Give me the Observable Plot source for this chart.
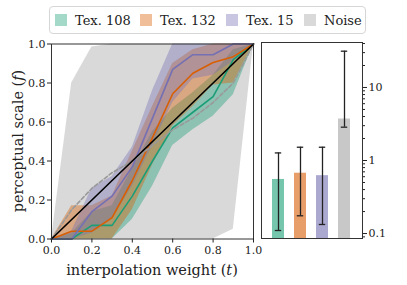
<!DOCTYPE html>
<html><head><meta charset="utf-8">
<script src="https://cdn.jsdelivr.net/npm/d3@7"></script>
<script src="https://cdn.jsdelivr.net/npm/@observablehq/plot@0.6"></script>
<style>
body{margin:0;background:#fff;}
#wrap{position:relative;width:407px;height:285px;overflow:hidden;font-family:"DejaVu Serif",serif;}
#left,#right{position:absolute;top:0;}
#left{left:0;}
#right{left:255px;}
#legend{position:absolute;left:49px;top:6px;width:317px;height:28px;border:1px solid #d6d6d6;border-radius:4px;box-sizing:border-box;font-size:13px;color:#222;background:#fff;z-index:2;white-space:nowrap}
.it{position:absolute;top:0;height:26px;display:flex;align-items:center;}
.sw{width:12px;height:12px;margin-right:8px;}
</style></head>
<body><div id="wrap"><div id="left"></div><div id="right"></div><div id="legend"></div></div>
<script>
const t = [0,0.1,0.2,0.3,0.4,0.5,0.6,0.7,0.8,0.9,1.0];
const seriesNames = ["Tex. 108","Tex. 132","Tex. 15","Noise"];
const tex108Mean = [0,0,0.07,0.07,0.22,0.40,0.57,0.65,0.73,0.92,1];
const tex108Lo   = [0,0,0,0,0.10,0.27,0.48,0.56,0.63,0.74,1];
const tex108Hi   = [0,0.03,0.14,0.17,0.36,0.55,0.67,0.75,0.84,0.97,1];
const tex132Mean = [0,0.04,0.04,0.11,0.30,0.52,0.745,0.85,0.905,0.935,1];
const tex132Lo   = [0,0,0,0,0.15,0.38,0.58,0.68,0.79,0.80,1];
const tex132Hi   = [0,0.17,0.17,0.22,0.45,0.68,0.90,0.97,1.0,1.0,1];
const tex15Mean  = [0,0,0.14,0.22,0.37,0.62,0.87,0.945,0.945,1.0,1];
const tex15Lo    = [0,0,0.03,0.10,0.27,0.48,0.70,0.82,0.84,0.91,1];
const tex15Hi    = [0,0.04,0.26,0.32,0.47,0.76,1.0,1.0,1.0,1.0,1];
const noiseMean  = [0,0.15,0.26,0.34,0.40,0.48,0.56,0.62,0.70,0.80,1];
const noiseLo    = [0,0,0,0,0,0,0,0,0,0.05,1];
const noiseHi    = [0,0.80,0.985,1,1,1,1,1,1,1,1];
const barValue   = [0.55,0.67,0.62,3.7];
const barErrLo   = [0.11,0.175,0.133,2.86];
const barErrHi   = [1.27,1.52,1.52,31.4];
const xTicks = [0,0.2,0.4,0.6,0.8,1.0];
const yTicks = [0,0.2,0.4,0.6,0.8,1.0];
const logTicks = [0.1,1,10];

const colors = ["#1b9e77","#d95f02","#7570b3","#808080"];
const barColors = ["#76c5ad","#e89e68","#aca9d1","#c8c8c8"];
const swColors = ["#a4d8c9","#f0bf9a","#c8c6e1","#d9d9d9"];
const FF = "DejaVu Serif";
const font = {fontFamily:FF, fontSize:"11px", color:"#222", background:"transparent", overflow:"visible"};

const means=[tex108Mean,tex132Mean,tex15Mean,noiseMean], los=[tex108Lo,tex132Lo,tex15Lo,noiseLo], his=[tex108Hi,tex132Hi,tex15Hi,noiseHi];
const rows = [];
seriesNames.forEach((s,i)=>t.forEach((x,j)=>rows.push({s, t:x, m:means[i][j], lo:los[i][j], hi:his[i][j]})));
const bySeries = s => rows.filter(r=>r.s===s);
const colorOf = s => colors[seriesNames.indexOf(s)];

const bandOrder = ["Noise","Tex. 108","Tex. 132","Tex. 15"];
const marks = [];
bandOrder.forEach(s=>marks.push(Plot.areaY(bySeries(s),{x:"t",y1:"lo",y2:"hi",fill:colorOf(s),fillOpacity:s==="Noise"?0.3:0.4})));
["Tex. 108","Tex. 132","Tex. 15"].forEach(s=>marks.push(Plot.line(bySeries(s),{x:"t",y:"m",stroke:colorOf(s),strokeWidth:1.6})));
marks.push(Plot.line(bySeries("Noise"),{x:"t",y:"m",stroke:"#999",strokeWidth:1.6,strokeDasharray:"4,2.2"}));
marks.push(Plot.line(t.map(x=>({x,y:x})),{x:"x",y:"y",stroke:"#000",strokeWidth:1.6}));
marks.push(Plot.frame({stroke:"#333",strokeWidth:1}));
marks.push(Plot.axisX({ticks:xTicks,tickFormat:d3.format(".1f"),tickSize:4,tickPadding:3,label:null,stroke:"#222",fontFamily:FF}));
marks.push(Plot.axisY({ticks:yTicks,tickFormat:d3.format(".1f"),tickSize:4,tickPadding:2,label:null,stroke:"#222",fontFamily:FF}));

const left = Plot.plot({width:260,height:285,marginLeft:51,marginRight:7,marginTop:43.5,marginBottom:46.5,
  x:{domain:[0,1]}, y:{domain:[0,1]}, style:font, marks});
document.getElementById("left").appendChild(left);
const ls = d3.select(left);
const xl = ls.append("text").attr("x",152).attr("y",275).attr("text-anchor","middle").attr("font-size",14.5).attr("font-family",FF).attr("fill","#222");
xl.append("tspan").text("interpolation weight (");xl.append("tspan").attr("font-style","italic").text("t");xl.append("tspan").text(")");
const yl = ls.append("text").attr("transform","translate(23,141) rotate(-90)").attr("text-anchor","middle").attr("font-size",14.5).attr("font-family",FF).attr("fill","#222");
yl.append("tspan").text("perceptual scale (");yl.append("tspan").attr("font-style","italic").text("f");yl.append("tspan").text(")");

const bars = seriesNames.map((s,i)=>({s, v:barValue[i], lo:barErrLo[i], hi:barErrHi[i], c:barColors[i]}));
const yDom = [0.0855, 41.3];
const minor = [];
[0.01,0.1,1,10].forEach(d=>{for(let k=2;k<=9;k++){const v=d*k; if(v>=yDom[0]&&v<=yDom[1]) minor.push(v);}});
const right = Plot.plot({width:152,height:285,marginLeft:6,marginRight:45,marginTop:42,marginBottom:47,
  x:{type:"band",domain:seriesNames,paddingInner:0.45,paddingOuter:0.48,axis:null},
  y:{type:"log",domain:yDom,axis:null},
  style:font,
  marks:[
    Plot.barY(bars,{x:"s",y1:yDom[0],y2:"v",fill:"c"}),
    Plot.ruleX(bars,{x:"s",y1:"lo",y2:"hi",stroke:"#222",strokeWidth:1.3}),
    Plot.tickY(bars,{x:"s",y:"lo",stroke:"#222",strokeWidth:1.3,inset:2.8}),
    Plot.tickY(bars,{x:"s",y:"hi",stroke:"#222",strokeWidth:1.3,inset:2.8}),
    Plot.frame({stroke:"#333",strokeWidth:1}),
    Plot.axisY({anchor:"right",ticks:logTicks,tickFormat:d=>String(d),tickSize:4,tickPadding:2,label:null,stroke:"#222",fontFamily:FF}),
    Plot.axisY({anchor:"right",ticks:minor,tickFormat:null,text:null,tickSize:2,label:null,stroke:"#222"})
  ]});
document.getElementById("right").appendChild(right);

const lg = document.getElementById("legend");
const itemLeft = [5,90,176,254];
seriesNames.forEach((s,i)=>{const it=document.createElement("div");it.className="it";it.style.left=itemLeft[i]+"px";
  const sw=document.createElement("div");sw.className="sw";sw.style.background=swColors[i];
  const tx=document.createElement("span");tx.textContent=s;
  it.appendChild(sw);it.appendChild(tx);lg.appendChild(it);});
</script></body></html>
